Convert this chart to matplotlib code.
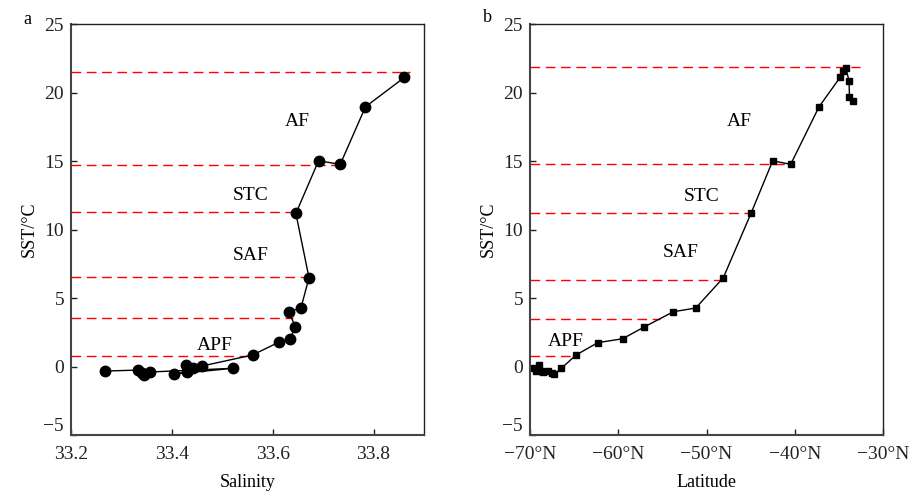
import matplotlib.pyplot as plt
import matplotlib.ticker as mticker

plt.rcParams['font.family'] = ['Liberation Serif', 'DejaVu Serif']
plt.rcParams['axes.unicode_minus'] = True

# panel a: salinity vs SST (line order as drawn)
salinidad = [33.861, 33.784, 33.734, 33.691, 33.646, 33.672, 33.656, 33.632, 33.645,
             33.634, 33.612, 33.560, 33.460, 33.442, 33.429, 33.431, 33.405, 33.521,
             33.356, 33.345, 33.340, 33.332, 33.267]
sst_a = [21.1, 18.96, 14.76, 15.02, 11.18, 6.48, 4.27, 4.0, 2.9,
         2.0, 1.77, 0.84, 0.04, -0.13, 0.1, -0.4, -0.55, -0.13,
         -0.4, -0.6, -0.45, -0.26, -0.33]

# panel b: latitude vs SST
latitud = [-69.5, -69.3, -69.0, -68.8, -68.5, -68.0, -67.5, -67.24, -66.45, -64.79,
           -62.33, -59.5, -57.08, -53.76, -51.22, -48.1, -44.96, -42.5, -40.46,
           -37.25, -34.87, -34.5, -34.2, -33.85, -33.8, -33.35]
sst_b = [-0.1, -0.35, 0.1, -0.35, -0.4, -0.3, -0.45, -0.57, -0.13, 0.84,
         1.74, 2.03, 2.88, 4.0, 4.27, 6.48, 11.18, 15.02, 14.76,
         18.96, 21.1, 21.6, 21.77, 20.84, 19.7, 19.4]

# fronts: (y, end of the dashed line)
frentes_a = [(21.5, 33.872), (14.7, 33.74), (11.25, 33.645), (6.5, 33.67), (3.55, 33.64), (0.8, 33.55)]
frentes_b = [(21.9, -32.6), (14.8, -40.2), (11.2, -44.8), (6.3, -47.8), (3.5, -55.3), (0.8, -65.2)]

etiquetas = ['AF', 'STC', 'SAF', 'APF']
pos_a = [(33.648, 17.9), (33.556, 12.5), (33.556, 8.1), (33.485, 1.5)]
pos_b = [(-46.3, 17.9), (-50.5, 12.4), (-52.9, 8.3), (-65.9, 1.8)]

fig = plt.figure(figsize=(9.09, 4.91), dpi=100)
ax1 = fig.add_axes([0.0781, 0.114, 0.3883, 0.837])
ax2 = fig.add_axes([0.5831, 0.114, 0.3883, 0.837])


def estilo(ax):
    for lado in ['left', 'bottom']:
        ax.spines[lado].set_color('#444444')
        ax.spines[lado].set_linewidth(1.5)
    for lado in ['top', 'right']:
        ax.spines[lado].set_color('#222222')
        ax.spines[lado].set_linewidth(1.0)
    ax.tick_params(direction='in', length=4, width=1, labelsize=14, colors='#222222',
                   top=False, right=False)
    ax.tick_params(axis='x', pad=8)
    ax.tick_params(axis='y', pad=5)
    ax.set_ylim(-5, 25)
    ax.set_yticks([-5, 0, 5, 10, 15, 20, 25])
    ax.set_ylabel('SST/°C', fontsize=13, labelpad=4)
    # the -5 label sits just above the corner
    ax.get_yticklabels()[0].set_verticalalignment('bottom')


# panel a
xmin_a = 33.2
for y, xe in frentes_a:
    ax1.hlines(y, xmin_a, xe, colors='red', linewidth=1, linestyles=(0, (7, 4)), zorder=1)
ax1.plot(salinidad, sst_a, color='black', linewidth=1, marker='o', markersize=7.5, zorder=2)
for txt, (x, y) in zip(etiquetas, pos_a):
    ax1.text(x, y, txt, fontsize=14, ha='center', va='center')
ax1.set_xlim(33.2, 33.9)
ax1.set_xticks([33.2, 33.4, 33.6, 33.8])
ax1.xaxis.set_major_formatter(mticker.FormatStrFormatter('%.1f'))
estilo(ax1)
ax1.set_xlabel('Salinity', fontsize=13, labelpad=8)
fig.text(27 / 909, 1 - 20 / 491, 'a', fontsize=13, ha='center', va='center')

# panel b
xmin_b = -70
for y, xe in frentes_b:
    ax2.hlines(y, xmin_b, xe, colors='red', linewidth=1, linestyles=(0, (7, 4)), zorder=1)
ax2.plot(latitud, sst_b, color='black', linewidth=1, marker='s', markersize=5, zorder=2)
for txt, (x, y) in zip(etiquetas, pos_b):
    ax2.text(x, y, txt, fontsize=14, ha='center', va='center')
ax2.set_xlim(-70, -30)
ax2.set_xticks([-70, -60, -50, -40, -30])
ax2.xaxis.set_major_formatter(mticker.FuncFormatter(lambda v, p: f'\u2212{abs(int(v))}°N'))
estilo(ax2)
ax2.set_xlabel('Latitude', fontsize=13, labelpad=8)
fig.text(487 / 909, 1 - 18 / 491, 'b', fontsize=13, ha='center', va='center')

fig.savefig('out.png', dpi=100)
